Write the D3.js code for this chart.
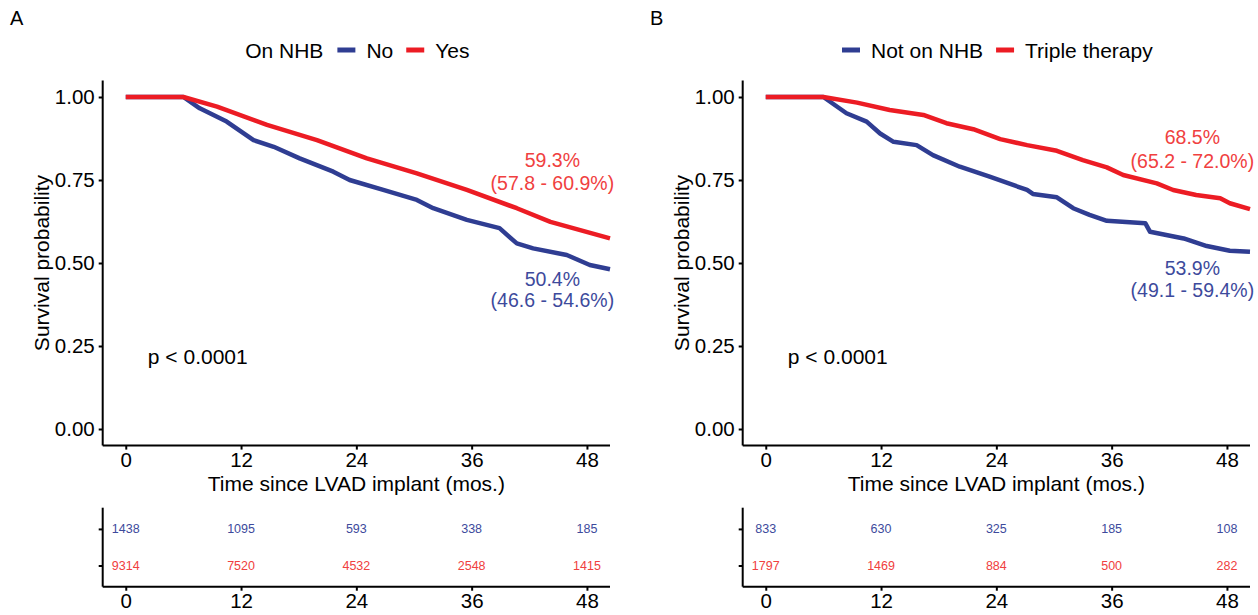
<!DOCTYPE html>
<html>
<head>
<meta charset="utf-8">
<script src="https://cdn.jsdelivr.net/npm/d3@7"></script>
<style>
  body { margin: 0; background: #fff; }
  svg text { font-family: "Liberation Sans", Arial, sans-serif; }
</style>
</head>
<body>
<div id="chart"></div>
<script>
// tick values
const monthTicks = [0, 12, 24, 36, 48];
const survTicks = [0, 0.25, 0.5, 0.75, 1];

// panel A: On NHB No / Yes
const aNoTime = [0, 6.0, 7.7, 10.5, 13.3, 15.4, 18.1, 21.6, 23.3, 26.8, 30.3, 32.0, 35.5, 38.9, 40.7, 42.4, 45.9, 48.3, 50.4];
const aNoSurv = [1, 1, 0.966, 0.926, 0.870, 0.850, 0.815, 0.775, 0.750, 0.720, 0.690, 0.665, 0.630, 0.605, 0.559, 0.544, 0.524, 0.494, 0.481];
const aYesTime = [0, 6.0, 9.5, 14.7, 19.9, 25.1, 30.3, 35.5, 40.7, 44.2, 50.4];
const aYesSurv = [1, 1, 0.971, 0.916, 0.870, 0.815, 0.770, 0.720, 0.665, 0.624, 0.574];

// panel B: Not on NHB / Triple therapy
const bNoTime = [0, 6.0, 8.4, 10.5, 11.9, 13.3, 15.7, 17.4, 20.2, 23.3, 27.2, 27.8, 30.3, 32.0, 33.7, 35.5, 39.5, 40.0, 43.5, 45.9, 48.3, 50.4];
const bNoSurv = [1, 1, 0.951, 0.926, 0.890, 0.865, 0.855, 0.825, 0.790, 0.760, 0.720, 0.708, 0.698, 0.665, 0.645, 0.627, 0.620, 0.594, 0.574, 0.551, 0.537, 0.534];
const bYesTime = [0, 6.0, 9.5, 12.9, 16.4, 18.8, 21.6, 24.4, 27.2, 30.3, 33.0, 35.5, 37.2, 40.7, 42.4, 44.8, 47.3, 48.3, 50.4];
const bYesSurv = [1, 1, 0.983, 0.961, 0.946, 0.921, 0.903, 0.873, 0.855, 0.838, 0.810, 0.788, 0.765, 0.740, 0.720, 0.705, 0.695, 0.680, 0.662];

// numbers at risk
const riskANo = [1438, 1095, 593, 338, 185];
const riskAYes = [9314, 7520, 4532, 2548, 1415];
const riskBNo = [833, 630, 325, 185, 108];
const riskBYes = [1797, 1469, 884, 500, 282];

const panels = [
    { tag: "A", legendTitle: "On NHB", names: ["No", "Yes"],
      noT: aNoTime, noS: aNoSurv, yesT: aYesTime, yesS: aYesSurv,
      riskNo: riskANo, riskYes: riskAYes,
      yesLab: ["59.3%", "(57.8 - 60.9%)"], noLab: ["50.4%", "(46.6 - 54.6%)"],
      yesLabY: [0.81, 0.74], noLabY: [0.452, 0.387] },
    { tag: "B", legendTitle: "", names: ["Not on NHB", "Triple therapy"],
      noT: bNoTime, noS: bNoSurv, yesT: bYesTime, yesS: bYesSurv,
      riskNo: riskBNo, riskYes: riskBYes,
      yesLab: ["68.5%", "(65.2 - 72.0%)"], noLab: ["53.9%", "(49.1 - 59.4%)"],
      yesLabY: [0.880, 0.807], noLabY: [0.485, 0.419] }
];

const blue = "#2f3d92", red = "#ec1c24";
const blueTxt = "#3d4a9c", redTxt = "#f04040";

const svg = d3.select("#chart").append("svg")
    .attr("width", 1258)
    .attr("height", 615);

svg.append("rect").attr("width", 1258).attr("height", 615).attr("fill", "#fff");

const x = d3.scaleLinear().domain([-2.4, 50.4]).range([102.7, 610]);
const y = d3.scaleLinear().domain([-0.05, 1.05]).range([445.6, 80.4]);
const yRisk = d3.scalePoint().domain(["no", "yes"]).range([507.7, 586.7]).padding(0.58);

function styleAxis(a) {
    a.select(".domain").attr("stroke-width", 2);
    a.selectAll(".tick line").attr("stroke-width", 2);
    a.selectAll("text").style("font-size", "20.5px").attr("fill", "#000")
        .style("font-family", "'Liberation Sans', Arial, sans-serif");
}

panels.forEach((p, i) => {
    const g = svg.append("g").attr("transform", `translate(${i * 640},0)`);

    g.append("text")
        .attr("x", 10)
        .attr("y", 25)
        .style("font-size", "20px")
        .text(p.tag);

    // legend, centred over the panel
    const leg = g.append("g");
    let cx = 0;
    if (p.legendTitle) {
        const t = leg.append("text").attr("x", cx).attr("y", 57.5)
            .style("font-size", "21px").text(p.legendTitle);
        cx += t.node().getComputedTextLength() + 14;
    }
    [blue, red].forEach((c, k) => {
        leg.append("line").attr("x1", cx).attr("x2", cx + 18)
            .attr("y1", 50).attr("y2", 50)
            .attr("stroke", c).attr("stroke-width", 5);
        cx += 29;
        const t = leg.append("text").attr("x", cx).attr("y", 57.5)
            .style("font-size", "21px").text(p.names[k]);
        cx += t.node().getComputedTextLength() + 13;
    });
    cx -= 13;
    leg.attr("transform", `translate(${(102.7 + 610) / 2 - cx / 2 + 1},0)`);

    // axes
    const yAxis = g.append("g")
        .attr("transform", "translate(102.7,0)")
        .call(d3.axisLeft(y).tickValues(survTicks).tickFormat(d3.format(".2f")).tickSize(4).tickPadding(4));
    const xAxis = g.append("g")
        .attr("transform", "translate(0,445.6)")
        .call(d3.axisBottom(x).tickValues(monthTicks).tickSize(4).tickPadding(3));
    styleAxis(yAxis);
    styleAxis(xAxis);
    yAxis.select(".domain").attr("d", "M0,80.4V445.6");
    xAxis.select(".domain").attr("d", "M102.7,0H610");

    g.append("text")
        .attr("transform", `translate(42,${(80.4 + 445.6) / 2}) rotate(-90)`)
        .attr("text-anchor", "middle")
        .attr("dy", "0.35em")
        .style("font-size", "21px")
        .text("Survival probability");

    g.append("text")
        .attr("x", (102.7 + 610) / 2)
        .attr("y", 491)
        .attr("text-anchor", "middle")
        .style("font-size", "21px")
        .text("Time since LVAD implant (mos.)");

    // curves
    const line = d3.line().x(d => x(d[0])).y(d => y(d[1]));
    g.append("path")
        .datum(p.noT.map((t, k) => [t, p.noS[k]]))
        .attr("d", line)
        .attr("fill", "none").attr("stroke", blue).attr("stroke-width", 4.5)
        .attr("stroke-linejoin", "round");
    g.append("path")
        .datum(p.yesT.map((t, k) => [t, p.yesS[k]]))
        .attr("d", line)
        .attr("fill", "none").attr("stroke", red).attr("stroke-width", 4.5)
        .attr("stroke-linejoin", "round");

    // p value
    g.append("text")
        .attr("x", x(2.3))
        .attr("y", y(0.217))
        .attr("dy", "0.35em")
        .style("font-size", "21px")
        .text("p < 0.0001");

    // 48-month annotations
    [[p.yesLab, p.yesLabY, redTxt], [p.noLab, p.noLabY, blueTxt]].forEach(([labs, ys, c]) => {
        labs.forEach((s, k) => {
            g.append("text")
                .attr("x", x(44.4))
                .attr("y", y(ys[k]))
                .attr("dy", "0.35em")
                .attr("text-anchor", "middle")
                .attr("fill", c)
                .style("font-size", "19.5px")
                .text(s);
        });
    });

    // risk table
    const rY = g.append("g")
        .attr("transform", "translate(102.7,0)")
        .call(d3.axisLeft(yRisk).tickSize(4).tickFormat(""));
    const rX = g.append("g")
        .attr("transform", "translate(0,586.7)")
        .call(d3.axisBottom(x).tickValues(monthTicks).tickSize(4).tickPadding(3));
    styleAxis(rY);
    styleAxis(rX);
    rY.select(".domain").attr("d", "M0,507.7V586.7");
    rX.select(".domain").attr("d", "M102.7,0H610");

    [["no", p.riskNo, blueTxt], ["yes", p.riskYes, redTxt]].forEach(([key, vals, c]) => {
        g.selectAll(null)
            .data(vals)
            .enter()
            .append("text")
            .attr("x", (d, k) => x(monthTicks[k]))
            .attr("y", yRisk(key))
            .attr("dy", "0.35em")
            .attr("text-anchor", "middle")
            .attr("fill", c)
            .style("font-size", "12.5px")
            .text(d => d);
    });
});
</script>
</body>
</html>
